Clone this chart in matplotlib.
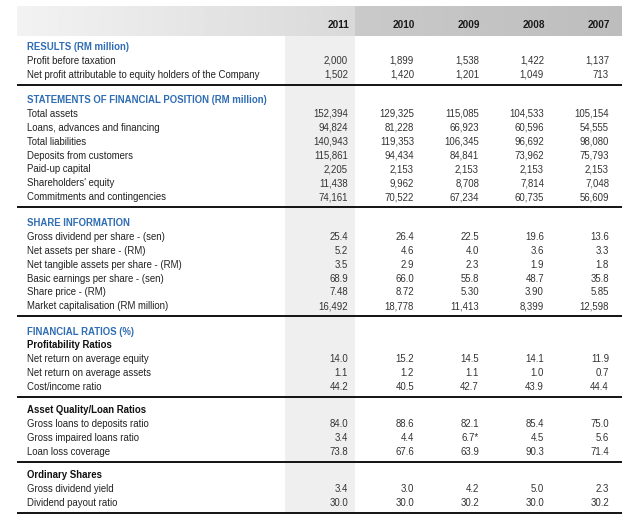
import numpy as np
import matplotlib
matplotlib.use('Agg')
import matplotlib.pyplot as plt
from matplotlib import font_manager

# narrow face if there is one, else the regular one a bit smaller
names = set(f.name for f in font_manager.fontManager.ttflist)
if 'Liberation Sans Narrow' in names:
    FONT, FS = ['Liberation Sans Narrow', 'DejaVu Sans'], 7.8
else:
    FONT, FS = ['Liberation Sans', 'DejaVu Sans'], 6.9
plt.rcParams['font.family'] = FONT

years = ['2011', '2010', '2009', '2008', '2007']

results_title = 'RESULTS (RM million)'
results_labels = ['Profit before taxation',
                  'Net profit attributable to equity holders of the Company']
results_values = [['2,000', '1,899', '1,538', '1,422', '1,137'],
                  ['1,502', '1,420', '1,201', '1,049', '713']]

position_title = 'STATEMENTS OF FINANCIAL POSITION (RM million)'
position_labels = ['Total assets', 'Loans, advances and financing', 'Total liabilities',
                   'Deposits from customers', 'Paid-up capital', "Shareholders' equity",
                   'Commitments and contingencies']
position_values = [['152,394', '129,325', '115,085', '104,533', '105,154'],
                   ['94,824', '81,228', '66,923', '60,596', '54,555'],
                   ['140,943', '119,353', '106,345', '96,692', '98,080'],
                   ['115,861', '94,434', '84,841', '73,962', '75,793'],
                   ['2,205', '2,153', '2,153', '2,153', '2,153'],
                   ['11,438', '9,962', '8,708', '7,814', '7,048'],
                   ['74,161', '70,522', '67,234', '60,735', '56,609']]

share_title = 'SHARE INFORMATION'
share_labels = ['Gross dividend per share - (sen)', 'Net assets per share - (RM)',
                'Net tangible assets per share - (RM)', 'Basic earnings per share - (sen)',
                'Share price - (RM)', 'Market capitalisation (RM million)']
share_values = [['25.4', '26.4', '22.5', '19.6', '13.6'],
                ['5.2', '4.6', '4.0', '3.6', '3.3'],
                ['3.5', '2.9', '2.3', '1.9', '1.8'],
                ['68.9', '66.0', '55.8', '48.7', '35.8'],
                ['7.48', '8.72', '5.30', '3.90', '5.85'],
                ['16,492', '18,778', '11,413', '8,399', '12,598']]

ratios_title = 'FINANCIAL RATIOS (%)'
profit_title = 'Profitability Ratios'
profit_labels = ['Net return on average equity', 'Net return on average assets',
                 'Cost/income ratio']
profit_values = [['14.0', '15.2', '14.5', '14.1', '11.9'],
                 ['1.1', '1.2', '1.1', '1.0', '0.7'],
                 ['44.2', '40.5', '42.7', '43.9', '44.4']]

quality_title = 'Asset Quality/Loan Ratios'
quality_labels = ['Gross loans to deposits ratio', 'Gross impaired loans ratio',
                  'Loan loss coverage']
quality_values = [['84.0', '88.6', '82.1', '85.4', '75.0'],
                  ['3.4', '4.4', '6.7*', '4.5', '5.6'],
                  ['73.8', '67.6', '63.9', '90.3', '71.4']]

ordinary_title = 'Ordinary Shares'
ordinary_labels = ['Gross dividend yield', 'Dividend payout ratio']
ordinary_values = [['3.4', '3.0', '4.2', '5.0', '2.3'],
                   ['30.0', '30.0', '30.2', '30.0', '30.2']]

BLUE = '#2f6db4'
DARK = '#222222'

fig = plt.figure(figsize=(6.43, 5.29), dpi=100)
ax = fig.add_axes([0, 0, 1, 1])

left, right = 17, 622
col_right = [348, 414, 479, 544, 609]
shade_x0, shade_x1 = 285, 355

# header band, light on the left and darker from the 2010 column on
g1 = np.linspace(0.95, 0.85, 200)[None, :]
ax.imshow(g1, cmap='gray', vmin=0, vmax=1, extent=[left, shade_x1, 36, 6], aspect='auto')
g2 = np.linspace(0.79, 0.74, 200)[None, :]
ax.imshow(g2, cmap='gray', vmin=0, vmax=1, extent=[shade_x1, right, 36, 6], aspect='auto')
ax.set_xlim(0, 643)
ax.set_ylim(529, 0)
ax.axis('off')

for x, yr in zip(col_right, years):
    ax.text(x + 1, 25, yr, ha='right', va='center', fontsize=FS + 0.3, fontweight='bold',
            color='#1a1a1a')

ax.add_patch(plt.Rectangle((shade_x0, 36), shade_x1 - shade_x0, 476, color='#efefef', lw=0, zorder=0))

PITCH = 13.9


def block(y, title, labels, values, blue=True, sub=None):
    ax.text(27, y, title, ha='left', va='center', fontsize=FS, fontweight='bold',
            color=BLUE if blue else '#111111')
    if sub is not None:
        y += 13.5
        ax.text(27, y, sub, ha='left', va='center', fontsize=FS, fontweight='bold', color='#111111')
    for lab, vals in zip(labels, values):
        y += PITCH
        ax.text(27, y, lab, ha='left', va='center', fontsize=FS, color=DARK)
        for x, v in zip(col_right, vals):
            ax.text(x, y, v, ha='right', va='center', fontsize=FS, color='#333333')
    y += 10
    ax.plot([left, right], [y, y], color='black', lw=1.3, solid_capstyle='butt')


block(47, results_title, results_labels, results_values)
block(100, position_title, position_labels, position_values)
block(223, share_title, share_labels, share_values)
block(332, ratios_title, profit_labels, profit_values, sub=profit_title)
block(410, quality_title, quality_labels, quality_values, blue=False)
block(475, ordinary_title, ordinary_labels, ordinary_values, blue=False)

fig.savefig('out.png', dpi=100)
